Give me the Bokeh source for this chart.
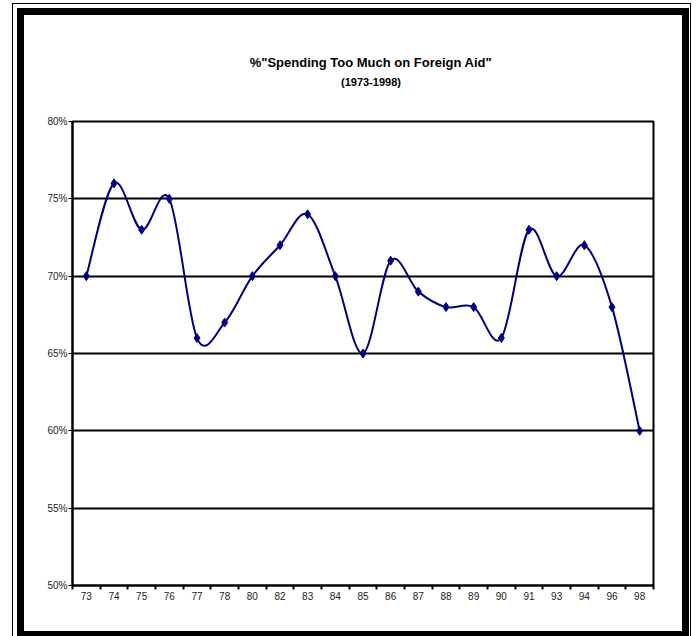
import numpy as np
from bokeh.plotting import figure
from bokeh.layouts import column
from bokeh.models import Range1d, FixedTicker, Label
from bokeh.embed import file_html
from bokeh.resources import INLINE

# Survey years (two-digit) and share answering "too much" (%)
years = ["73", "74", "75", "76", "77", "78", "80", "82", "83", "84", "85",
         "86", "87", "88", "89", "90", "91", "93", "94", "96", "98"]
pct = [70, 76, 73, 75, 66, 67, 70, 72, 74, 70, 65,
       71, 69, 68, 68, 66, 73, 70, 72, 68, 60]

y_ticks = [50, 55, 60, 65, 70, 75, 80]
y_labels = ["50%", "55%", "60%", "65%", "70%", "75%", "80%"]

title_text = '%"Spending Too Much on Foreign Aid"'
subtitle_text = "(1973-1998)"

NAVY = "#000080"
FONT = "Liberation Sans"

INNER_W = 658          # white chart area inside the heavy frame
HEAD_H = 98            # title strip
CHART_H = 518          # plot strip

n = len(years)
xs = np.arange(n) + 0.5
ys = np.array(pct, dtype=float)

# ---- title strip -------------------------------------------------------
head = figure(width=INNER_W, height=HEAD_H, output_backend="svg",
              toolbar_location=None, x_range=Range1d(0, INNER_W),
              y_range=Range1d(0, HEAD_H), x_axis_type=None, y_axis_type=None,
              min_border=0)
head.grid.visible = False
head.outline_line_color = None
head.background_fill_color = "white"
head.border_fill_color = "white"
head.add_layout(Label(x=338, y=51, text=title_text,
                      text_font=FONT, text_font_style="bold",
                      text_font_size="13px", text_align="center",
                      text_baseline="middle", text_color="black"))
head.add_layout(Label(x=338, y=32, text=subtitle_text,
                      text_font=FONT, text_font_style="bold",
                      text_font_size="11px", text_align="center",
                      text_baseline="middle", text_color="black"))

# ---- chart -------------------------------------------------------------
p = figure(width=INNER_W, height=CHART_H, output_backend="svg",
           toolbar_location=None,
           x_range=Range1d(0, n), y_range=Range1d(50, 80),
           min_border_left=48, min_border_right=29,
           min_border_top=8, min_border_bottom=46)
p.background_fill_color = "white"
p.border_fill_color = "white"
p.outline_line_color = "black"
p.outline_line_width = 2

# horizontal gridlines
p.xgrid.grid_line_color = None
p.ygrid.grid_line_color = "black"
p.ygrid.grid_line_width = 2
p.ygrid.ticker = FixedTicker(ticks=y_ticks)

# y axis
p.yaxis.ticker = FixedTicker(ticks=y_ticks)
p.yaxis.major_label_overrides = {t: s for t, s in zip(y_ticks, y_labels)}
p.yaxis.axis_line_width = 2
p.yaxis.major_tick_out = 4
p.yaxis.major_tick_in = 0
p.yaxis.major_tick_line_width = 1
p.yaxis.minor_tick_line_color = None
p.yaxis.major_label_standoff = 1
p.yaxis.major_label_text_font = FONT
p.yaxis.major_label_text_font_size = "10px"
p.yaxis.major_label_text_color = "#222222"

# x axis: labels at category centres, tick marks at category boundaries
p.xaxis.ticker = FixedTicker(ticks=list(xs), minor_ticks=list(range(n + 1)))
p.xaxis.major_label_overrides = {float(x): yr for x, yr in zip(xs, years)}
p.xaxis.axis_line_width = 2
p.xaxis.major_tick_line_color = None
p.xaxis.major_tick_out = 4
p.xaxis.major_tick_in = 0
p.xaxis.minor_tick_line_color = "black"
p.xaxis.minor_tick_line_width = 2
p.xaxis.minor_tick_out = 4
p.xaxis.minor_tick_in = 0
p.xaxis.major_label_standoff = 2
p.xaxis.major_label_text_font = FONT
p.xaxis.major_label_text_font_size = "10px"
p.xaxis.major_label_text_color = "#222222"

# smoothed line: cubic Bezier segments through every point (Catmull-Rom style)
P = np.column_stack([xs, ys])
Pp = np.vstack([P[:1], P])          # padded start
Pn = np.vstack([P, P[-1:]])         # padded end
seg0 = P[:-1]
seg1 = P[1:]
prev = Pp[:-2]                      # point before seg0
after = Pn[2:]                      # point after seg1
c0 = seg0 + (seg1 - prev) / 6.0
c1 = seg1 - (after - seg0) / 6.0
p.bezier(x0=seg0[:, 0], y0=seg0[:, 1], x1=seg1[:, 0], y1=seg1[:, 1],
         cx0=c0[:, 0], cy0=c0[:, 1], cx1=c1[:, 0], cy1=c1[:, 1],
         line_color=NAVY, line_width=2)

p.scatter(xs, ys, marker="diamond", size=9, fill_color=NAVY, line_color=NAVY)

# ---- page: heavy frame plus a thin outer rule, drawn as shadows ----------
page = column(head, p, spacing=0, margin=(15, 0, 0, 24),
              styles={"box-shadow": "0 0 0 7px black, "
                                    "-1.5px -1.5px 0 9.5px white, "
                                    "-1.5px -1.5px 0 10.5px black",
                      "background": "white"})

open("out.html", "w").write(file_html(page, INLINE))
